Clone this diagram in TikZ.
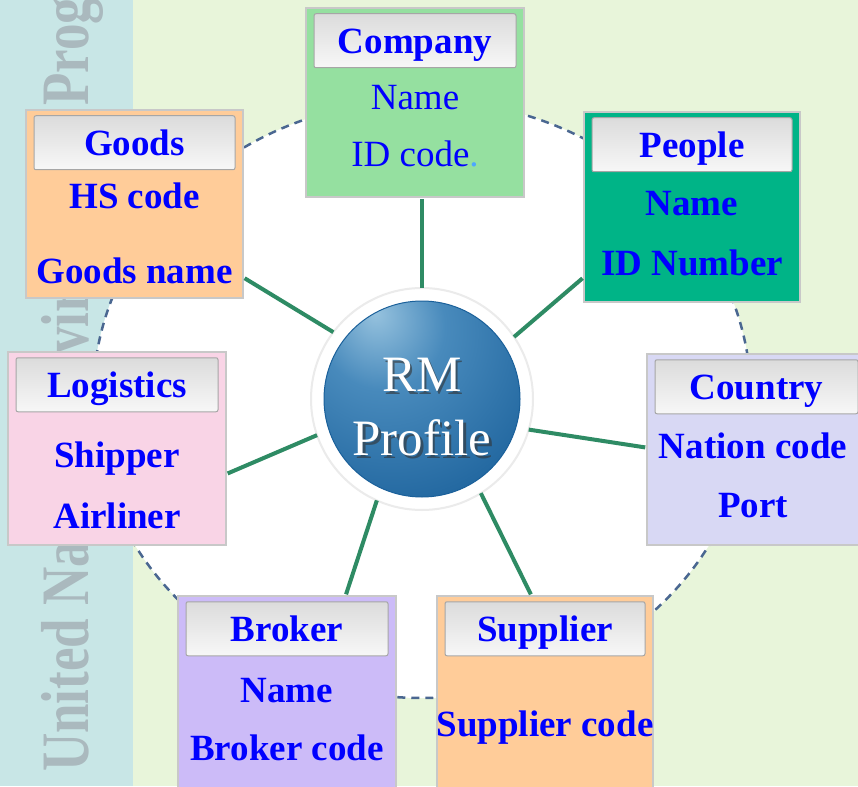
\documentclass[tikz,border=0pt]{standalone}
\usepackage{fontspec}
\setmainfont{Liberation Serif}
\usetikzlibrary{shapes.geometric,positioning,calc}
\definecolor{cTeal}{RGB}{200,230,230}
\definecolor{cLeaf}{RGB}{232,245,218}
\definecolor{cMark}{RGB}{170,185,190}
\definecolor{cOrbit}{RGB}{74,103,145}
\definecolor{cSpoke}{RGB}{46,139,100}
\definecolor{cEdge}{RGB}{200,200,200}
\definecolor{cCompany}{RGB}{149,224,160}
\definecolor{cPeople}{RGB}{0,180,135}
\definecolor{cPeach}{RGB}{255,204,153}
\definecolor{cPink}{RGB}{249,212,230}
\definecolor{cLilac}{RGB}{216,216,244}
\definecolor{cBroker}{RGB}{204,187,248}
\definecolor{cDot}{RGB}{77,166,255}
\definecolor{cBallHi}{RGB}{150,194,222}
\definecolor{cBallMid}{RGB}{72,138,188}
\definecolor{cBallDk}{RGB}{26,96,154}
\pgfdeclareradialshading{rmshade}{\pgfpoint{-12bp}{22bp}}{%
  color(0bp)=(cBallHi); color(16bp)=(cBallMid); color(46bp)=(cBallDk);
  color(100bp)=(cBallDk)}
\newcommand{\lblfont}{\fontsize{37}{44}\selectfont}
\tikzset{
  basebox/.style={rectangle,draw=cEdge,line width=1.5pt,inner sep=0pt},
  hdrbtn/.style={rectangle,rounded corners=2pt,draw=black!35,line width=1pt,
                 top color=black!14,bottom color=black!3,minimum height=54pt,
                 text height=26pt,text depth=0pt,text=blue,
                 font=\lblfont\bfseries,anchor=north},
  itemtxt/.style={text=blue,font=\lblfont\bfseries,anchor=base,inner sep=0pt},
  spoke/.style={line width=4pt,color=cSpoke,shorten >=1pt}
}
\begin{document}
\begin{tikzpicture}[x=1pt,y=-1pt]
  \useasboundingbox (0,0) rectangle (858,786);
  \clip (0,0) rectangle (858,786);
  \fill[cLeaf] (0,0) rectangle (858,786);
  \fill[cTeal] (0,0) rectangle (133,786);
  \node[rotate=90,anchor=base west,inner sep=0pt,text=cMark,
        font=\fontsize{53}{60}\selectfont\bfseries] (mark) at (88,772)
        {\scalebox{1}[1.28]{United Nations Environment Programme}};
  \node[ellipse,draw=cOrbit,fill=white,line width=2.5pt,
        dash pattern=on 8pt off 6pt,inner sep=0pt,
        minimum width=658pt,minimum height=598pt] (orbit) at (422,399) {};

  % centre
  \node[circle,fill=white,draw=black!8,line width=2pt,inner sep=0pt,
        outer sep=0pt,minimum size=222pt] (rmring) at (422,399) {};
  \node[circle,shading=rmshade,draw=cBallDk,line width=1pt,
        minimum size=196pt] (rmball) at (422,399) {};
  \node[align=center,text=black!80,opacity=0.6,inner sep=0pt,
        font=\fontsize{51}{64}\selectfont] (rmshadow) at (424.5,410) {RM\\Profile};
  \node[align=center,text=white,inner sep=0pt,
        font=\fontsize{51}{64}\selectfont] (rmtext) at (422,407.5) {RM\\Profile};

  % boxes
  \node[basebox,fill=cCompany,minimum width=218pt,minimum height=189pt]
        (company) at (415,102.5) {};
  \node[hdrbtn,minimum width=202pt] (companyH) at ([yshift=-6pt]company.north) {Company};
  \node[itemtxt,font=\lblfont] at (415,110) {Name};
  \node[itemtxt,font=\lblfont] at (415,167) {ID code\textcolor{cDot}{.}};

  \node[basebox,fill=cPeople,minimum width=216pt,minimum height=190pt]
        (people) at (692,207) {};
  \node[hdrbtn,minimum width=200pt] (peopleH) at ([yshift=-6pt]people.north) {People};
  \node[itemtxt] at (692,215) {Name};
  \node[itemtxt] at (692,275) {ID Number};

  \node[basebox,fill=cPeach,minimum width=217pt,minimum height=188pt]
        (goods) at (134.5,204) {};
  \node[hdrbtn,minimum width=201pt] (goodsH) at ([yshift=-6pt]goods.north) {Goods};
  \node[itemtxt] at (134.5,208) {HS code};
  \node[itemtxt] at (134.5,283) {Goods name};

  \node[basebox,fill=cPink,minimum width=218pt,minimum height=193pt]
        (logistics) at (117,448.5) {};
  \node[hdrbtn,minimum width=202pt] (logisticsH) at ([yshift=-6pt]logistics.north) {Logistics};
  \node[itemtxt] at (117,467) {Shipper};
  \node[itemtxt] at (117,528) {Airliner};

  \node[basebox,fill=cLilac,minimum width=219pt,minimum height=191pt]
        (country) at (756.5,449.5) {};
  \node[hdrbtn,minimum width=203pt] (countryH) at ([yshift=-6pt]country.north) {Country};
  \node[itemtxt] at (753,458) {Nation code};
  \node[itemtxt] at (753,517) {Port};

  \node[basebox,fill=cBroker,minimum width=218pt,minimum height=194pt]
        (broker) at (287,693) {};
  \node[hdrbtn,minimum width=202pt] (brokerH) at ([yshift=-6pt]broker.north) {Broker};
  \node[itemtxt] at (287,702) {Name};
  \node[itemtxt] at (287,760) {Broker code};

  \node[basebox,fill=cPeach,minimum width=216pt,minimum height=194pt]
        (supplier) at (545,693) {};
  \node[hdrbtn,minimum width=200pt] (supplierH) at ([yshift=-6pt]supplier.north) {Supplier};
  \node[itemtxt] at (545,736) {Supplier code};

  % spokes
  \draw[spoke] (rmring.90) -- (rmring.90 |- company.south);
  \draw[spoke] (rmring.143) -- (goods.-34);
  \draw[spoke] (rmring.34) -- (people.-147);
  \draw[spoke] (rmring.199) -- (logistics.-13);
  \draw[spoke] (rmring.344) -- (country.179);
  \draw[spoke] (rmring.246) -- (broker.59);
  \draw[spoke] (rmring.302) -- (supplier.98);
\end{tikzpicture}
\end{document}
